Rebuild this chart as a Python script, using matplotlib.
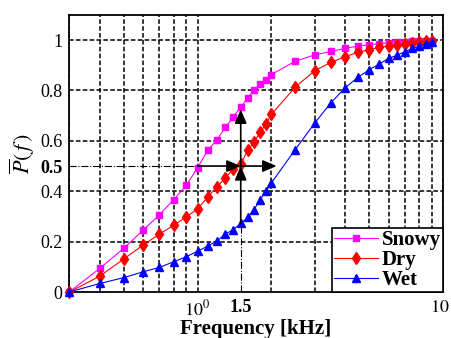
import matplotlib.pyplot as plt
from matplotlib.ticker import LogLocator, NullFormatter, FixedLocator

plt.rcParams['font.family'] = ['Liberation Serif', 'DejaVu Serif']
plt.rcParams['mathtext.fontset'] = 'stix'

# --- data ---
freq = [0.3, 0.4, 0.5, 0.6, 0.7, 0.8, 0.9, 1.0,
        1.1, 1.2, 1.3, 1.4, 1.5, 1.6, 1.7, 1.8, 1.9, 2.0,
        2.5, 3.0, 3.5, 4.0, 4.5, 5.0, 5.5, 6.0, 6.5, 7.0, 7.5, 8.0, 8.5, 9.0]
snowy = [0, 0.094, 0.173, 0.245, 0.307, 0.367, 0.423, 0.493,
         0.562, 0.604, 0.654, 0.696, 0.733, 0.770, 0.802, 0.826, 0.843, 0.863,
         0.916, 0.941, 0.955, 0.967, 0.976, 0.981, 0.986, 0.989, 0.992, 0.994,
         0.995, 0.996, 0.997, 0.998]
dry = [0, 0.063, 0.131, 0.186, 0.230, 0.265, 0.298, 0.330,
       0.377, 0.418, 0.453, 0.490, 0.507, 0.562, 0.595, 0.634, 0.667, 0.705,
       0.813, 0.878, 0.912, 0.934, 0.951, 0.962, 0.971, 0.977, 0.981, 0.986,
       0.990, 0.992, 0.995, 0.997]
wet = [0, 0.034, 0.057, 0.080, 0.098, 0.120, 0.140, 0.162,
       0.182, 0.203, 0.230, 0.248, 0.272, 0.296, 0.327, 0.367, 0.401, 0.433,
       0.565, 0.670, 0.752, 0.811, 0.852, 0.882, 0.905, 0.927, 0.940, 0.954,
       0.967, 0.975, 0.984, 0.993]

ytick_vals = [0, 0.2, 0.4, 0.5, 0.6, 0.8, 1.0]
ytick_labels = ['0', '0.2', '0.4', '0.5', '0.6', '0.8', '1']
ygrid_vals = [0.2, 0.4, 0.6, 0.8, 1.0]
xtick_vals = [1, 1.5, 10]
xtick_labels = ['$10^0$', '1.5', '$10^1$']

# annotation: median point and arrow spans
f_mark, p_mark = 1.5, 0.5
f_lo, f_hi = 1.0, 2.1
p_lo, p_hi = wet[freq.index(f_mark)], 0.725

fig = plt.figure(figsize=(4.52, 3.38), dpi=100)
ax = fig.add_axes([0.153, 0.136, 0.827, 0.820])

ax.set_xscale('log')
ax.set_xlim(0.3, 10)
ax.set_ylim(0, 1.1)

ax.set_xticks(xtick_vals, labels=xtick_labels)
ax.set_yticks(ytick_vals, labels=ytick_labels)
ax.tick_params(which='both', length=0, labelsize=13, pad=5)
ax.get_xticklabels()[1].set_fontweight('bold')
ax.get_yticklabels()[3].set_fontweight('bold')

# grid on minor ticks only (keep minor ticks that sit on major ones)
ax.xaxis.remove_overlapping_locs = False
ax.yaxis.remove_overlapping_locs = False
ax.xaxis.set_minor_locator(LogLocator(base=10, subs=range(1, 10)))
ax.xaxis.set_minor_formatter(NullFormatter())
ax.yaxis.set_minor_locator(FixedLocator(ygrid_vals))
grid_kw = dict(color='black', linestyle=(0, (3, 1.5)), linewidth=1.1)
ax.xaxis.grid(True, which='minor', **grid_kw)
ax.yaxis.grid(True, which='minor', **grid_kw)
ax.xaxis.grid(False, which='major')
ax.yaxis.grid(False, which='major')
ax.set_axisbelow(True)

for s in ax.spines.values():
    s.set_linewidth(1.3)

# dash-dot guide lines
ax.plot([0.3, f_lo], [p_mark, p_mark], color='black', linestyle='-.', linewidth=0.8)
ax.plot([f_mark, f_mark], [0, p_lo], color='black', linestyle='-.', linewidth=0.8)

# curves
ax.plot(freq, snowy, color='#ff00ff', marker='s', markersize=5, linewidth=0.8,
        label='Snowy', clip_on=False, zorder=3)
ax.plot(freq, dry, color='#ff0000', marker='d', markersize=6, linewidth=0.8,
        label='Dry', clip_on=False, zorder=3)
ax.plot(freq, wet, color='#0000ff', marker='^', markersize=6, linewidth=0.8,
        label='Wet', clip_on=False, zorder=3)

# arrows
arr = dict(arrowstyle='-|>,head_length=0.7,head_width=0.3', color='black',
           lw=1.2, shrinkA=0, shrinkB=0, mutation_scale=12)
ax.annotate('', xy=(f_mark, p_mark), xytext=(f_lo, p_mark), arrowprops=arr, zorder=4)
ax.annotate('', xy=(f_hi, p_mark), xytext=(f_mark, p_mark), arrowprops=arr, zorder=4)
ax.annotate('', xy=(f_mark, p_mark), xytext=(f_mark, p_lo), arrowprops=arr, zorder=4)
ax.annotate('', xy=(f_mark, p_hi), xytext=(f_mark, p_mark), arrowprops=arr, zorder=4)

ax.set_xlabel('Frequency [kHz]', fontsize=15, fontweight='bold', labelpad=0)
ax.set_ylabel(r'$\overline{P}(\,f\,)$', fontsize=16, labelpad=2)

leg = ax.legend(loc='lower right', prop={'weight': 'bold', 'size': 15},
                fancybox=False, framealpha=1, edgecolor='black', borderaxespad=0,
                handlelength=2.1, handletextpad=0.2, labelspacing=0.0, borderpad=0.1)
leg.get_frame().set_linewidth(1.2)
leg.set_zorder(5)

fig.savefig('out.png', dpi=100)
